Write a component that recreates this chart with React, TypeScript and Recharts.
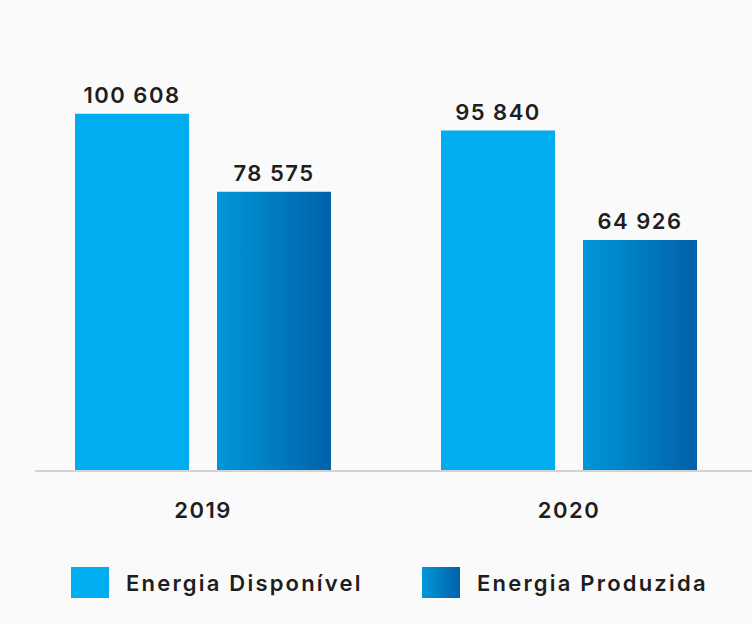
import { Bar, BarChart, LabelList, ReferenceLine, XAxis, YAxis } from "recharts";

const YEARS = ["2019", "2020"];
const DISPONIVEL = [100608, 95840];
const PRODUZIDA = [78575, 64926];
const SERIES_NAMES = ["Energia Disponível", "Energia Produzida"];

const data = YEARS.map((y, i) => ({ year: y, disp: DISPONIVEL[i], prod: PRODUZIDA[i] }));

const FONT = "Inter, 'Open Sans', sans-serif";
const BLUE = "#00aeef";

function fmt(n: number) {
  return String(n).replace(/\B(?=(\d{3})+(?!\d))/g, " ");
}

function YearTick({ x, y, payload }: { x?: number; y?: number; payload?: { value: string } }) {
  return (
    <text x={x} y={y} dy={18} textAnchor="middle" fontFamily={FONT} fontSize={22} fontWeight={600}
      letterSpacing={1.5} fill="#1e1e1e">
      {payload?.value}
    </text>
  );
}

function BaseLine(props: { x1?: number; x2?: number; y1?: number }) {
  const { x1 = 0, x2 = 0, y1 = 0 } = props;
  return <line x1={x1 + 15} x2={x2} y1={y1 + 1} y2={y1 + 1} stroke="#c4c4c4" strokeWidth={1.5} />;
}

function Swatch({ gradient }: { gradient: boolean }) {
  return (
    <div
      style={{
        width: 38,
        height: 31,
        flex: "none",
        background: gradient ? "linear-gradient(to right, #0097da, #0061a9)" : BLUE,
      }}
    />
  );
}

const labelStyle = { fontFamily: FONT, fontSize: 22, fontWeight: 600, fill: "#1e1e1e", letterSpacing: 1.5 };

export default function App() {
  return (
    <div style={{ position: "fixed", left: 0, top: 0, width: 752, height: 624, background: "#fafafa" }}>
      <BarChart width={752} height={624} data={data} margin={{ top: 45, right: 0, left: 20, bottom: 0 }} barSize={114} barGap={28}>
        <defs>
          <linearGradient id="prodGrad" x1="0" y1="0" x2="1" y2="0">
            <stop offset="0%" stopColor="#0097da" />
            <stop offset="100%" stopColor="#0061a9" />
          </linearGradient>
        </defs>
        <XAxis
          dataKey="year"
          axisLine={false}
          tickLine={false}
          height={154}
          tickMargin={24}
          tick={<YearTick />}
        />
        <YAxis hide domain={[0, 120000]} />
        <ReferenceLine y={0} shape={<BaseLine />} />
        <Bar dataKey="disp" fill={BLUE} isAnimationActive={false}>
          <LabelList dataKey="disp" position="top" offset={11} formatter={(v: number) => fmt(v)} style={labelStyle} />
        </Bar>
        <Bar dataKey="prod" fill="url(#prodGrad)" isAnimationActive={false}>
          <LabelList dataKey="prod" position="top" offset={11} formatter={(v: number) => fmt(v)} style={labelStyle} />
        </Bar>
      </BarChart>
      <div style={{ position: "absolute", left: 71, top: 567, height: 31, display: "flex", alignItems: "center", fontFamily: FONT, fontSize: 22, fontWeight: 600, letterSpacing: 2.2, color: "#1e1e1e" }}>
        <Swatch gradient={false} />
        <span style={{ marginLeft: 17, width: 296, whiteSpace: "nowrap" }}>{SERIES_NAMES[0]}</span>
        <Swatch gradient={true} />
        <span style={{ marginLeft: 17, whiteSpace: "nowrap" }}>{SERIES_NAMES[1]}</span>
      </div>
    </div>
  );
}
